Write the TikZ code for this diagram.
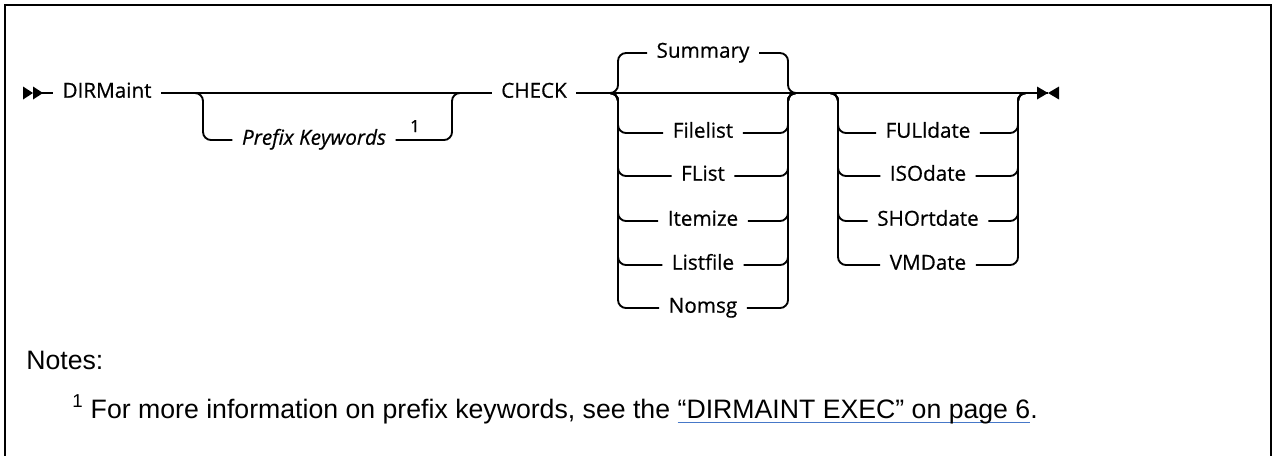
\documentclass[tikz,border=0pt]{standalone}
\usepackage{fontspec}
\setmainfont{Liberation Sans}
\newfontfamily\railfamily{Open Sans}[FakeBold=0.6]
\usepackage{tikz}
\usetikzlibrary{positioning}
\definecolor{linkblue}{RGB}{70,120,200}
\newcommand{\kwfont}{\railfamily\fontsize{15.5}{18}\selectfont}
\newcommand{\notefont}{\fontsize{20}{24}\selectfont}
\newcommand{\linkul}[1]{\begingroup\setbox0\hbox{#1}\rlap{\color{linkblue}\rule[-0.2em]{\wd0}{0.055em}}\box0\endgroup}

\begin{document}
\begin{tikzpicture}[x=0.75pt,y=-0.75pt,
  rail/.style={line width=1.4pt,rounded corners=6pt},
  kw/.style={font=\kwfont,inner xsep=7pt,inner ysep=0pt,text height=0.71em,text depth=0pt},
  note/.style={font=\notefont,anchor=base west,inner sep=0pt}]
\useasboundingbox (0,0) rectangle (1273,455);
\draw[line width=1.5pt] (5,470) -- (5,5) -- (1271,5) -- (1271,470);

% rail points
\coordinate (start) at (33,93);
\coordinate (pl) at (195,93);  \coordinate (pa) at (203,93);
\coordinate (pb) at (452,93);  \coordinate (pr) at (460,93);
\coordinate (g1l) at (610,93); \coordinate (g1a) at (618,93);
\coordinate (g1b) at (788,93); \coordinate (g1r) at (796,93);
\coordinate (g2l) at (830,93); \coordinate (g2a) at (838,93);
\coordinate (g2b) at (1018,93); \coordinate (g2r) at (1026,93);
\coordinate (stop) at (1048,93);

% keywords
\node[kw] (dm) at (107,93) {DIRMaint};
\node[kw,font=\kwfont\itshape] (pk) at (314,140) {Prefix Keywords};
\node[font=\railfamily\fontsize{12.5}{14}\selectfont,inner sep=0pt,anchor=base] (n1) at (415,132) {1};
\node[kw] (chk) at (534,93) {CHECK};

% main line
\draw[rail] (start) -- (dm.west);
\draw[rail] (dm.east) -- (pl) -- (pr) -- (chk.west);
\draw[rail] (chk.east) -- (g1l) -- (g1r) -- (g2l) -- (g2r) -- (stop);
\fill (23,86.5) -- (33,93) -- (23,99.5) -- cycle;
\fill (33,86.5) -- (43,93) -- (33,99.5) -- cycle;
\fill (1037,86.5) -- (1048,93) -- (1037,99.5) -- cycle;
\fill (1059,86.5) -- (1048,93) -- (1059,99.5) -- cycle;

% optional prefix
\draw[rail] (pl) -- (pa) |- (pk.west);
\draw[rail] (pk.east) -| (pb) -- (pr);

% check options
\foreach \opt/\y in {Summary/53,Filelist/133,FList/176,Itemize/221,Listfile/265,Nomsg/308}{
  \node[kw] (o\opt) at (703,\y) {\opt};
  \draw[rail] (g1l) -- (g1a) |- (o\opt.west);
  \draw[rail] (o\opt.east) -| (g1b) -- (g1r);
}

% date formats
\foreach \opt/\y in {FULldate/133,ISOdate/176,SHOrtdate/221,VMDate/265}{
  \node[kw] (d\opt) at (928,\y) {\opt};
  \draw[rail] (g2l) -- (g2a) |- (d\opt.west);
  \draw[rail] (d\opt.east) -| (g2b) -- (g2r);
}

% notes
\node[note] (notes) at (26,369) {Notes:};
\node[note] (fn) at (72,418) {\textsuperscript{1} For more information on prefix keywords, see the \linkul{“DIRMAINT EXEC” on page 6}.};
\end{tikzpicture}
\end{document}
